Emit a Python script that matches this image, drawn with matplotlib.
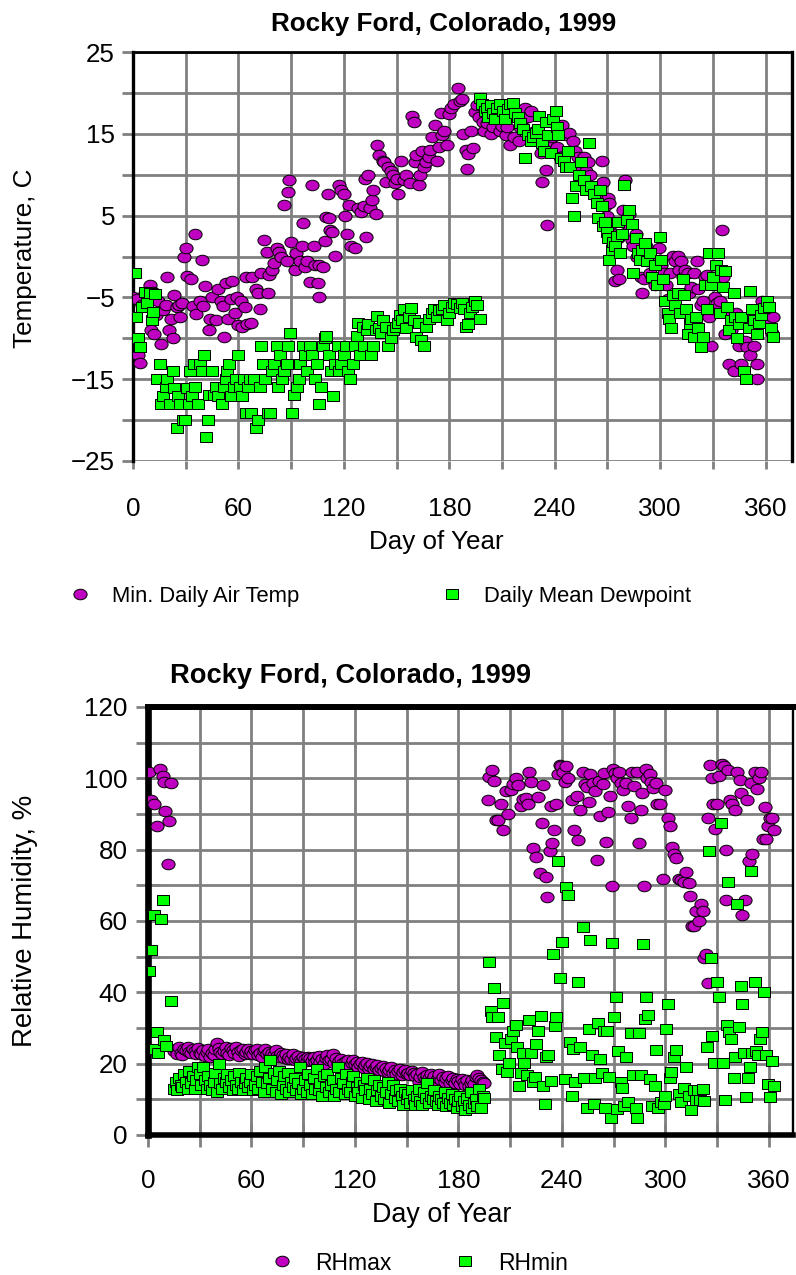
import matplotlib
matplotlib.use('Agg')
import matplotlib.pyplot as plt
from matplotlib.path import Path
from matplotlib.transforms import Affine2D
from matplotlib.ticker import FixedLocator
from matplotlib.lines import Line2D

plt.rcParams['font.family'] = ['Liberation Sans', 'DejaVu Sans']

# ---------------- data ----------------
title_text = "Rocky Ford, Colorado, 1999"

# Minimum daily air temperature (day, degC)
tmin_points = [
    (0,-4.9),(2,-5.2),(3,-12),(4,-13),(5,-5.9),(7,-4.5),(8,-5.4),(9.5,-3.5),(10,-9),(11.5,-4.3),
    (12,-9.5),(13,-7.1),(14,-5.4),(16,-10.7),(17,-6.6),(18.5,-5.9),(19.5,-2.5),(20.5,-9),(21.5,-7.6),
    (22.5,-10),(23.5,-4.7),(25,-6.2),(26,-5.9),(27,-7.4),(28,-5.7),(29,0),(30,1),(31,-2.4),(33,-2.8),
    (34,-6),(35.5,2.7),(36,-7),(38,-5.4),(39,-0.4),(40,-6),(41,-3.6),(43.5,-9),(44,-7.7),(45,-5),
    (47.5,-7.8),(48.5,-4),(50,-5.4),(51,-6),(52,-9.8),(53,-3.3),(54,-7.6),(55.5,-5.2),(56.5,-3),
    (58,-6.9),(59,-4.9),(60,-8.4),(61.5,-5.4),(62,-8.6),(64,-6.2),(64.5,-2.5),(65,-8.3),(67,-8.1),
    (68,-2.5),(70,-4),(71,-4.5),(72,-6.4),(73,-2),(74.5,2),(76,0.6),(77,-4.5),(77.5,-2.3),(79,-1.6),
    (80,-0.8),(82,1),(83,0.5),(84.5,-0.1),(86,6.3),(87.5,-0.5),(88,7.9),(89,9.3),(90,1.8),(92,-1.6),
    (93,0.4),(95,-0.6),(96,1.3),(97,4.1),(97.6,-1.3),(99,-0.6),(100.5,-3.1),(102,8.8),(103,1.3),
    (103.5,-1),(105,-3.3),(105.7,-1.1),(106,-4.9),(108,-1.3),(109,1.9),(110,4.8),(110.7,7.6),
    (111.5,4.7),(112,3.3),(113.5,3),(115,0.1),(117,8.7),(118.5,8.1),(120,7.6),(120.8,5),(121.6,2.8),
    (123,6.3),(124,1.3),(126.5,1.1),(128,5.9),(130,5.4),(131.7,6.2),(132,9.5),(132.5,2.4),(133.8,10),
    (135,5.9),(136,6.9),(136.6,8.1),(138,5.2),(138.7,13.6),(140,12.4),(142,11.7),(143,11.5),(144,9.1),
    (145,11),(146.8,10.5),(148,10),(149,9),(150,9.5),(151,7.7),(152.5,11.7),(154,9.3),(155.4,10),
    (157.7,9),(159,17.2),(160,16.5),(160.6,11.5),(161,12.4),(162.6,8.8),(163.5,10),(164.7,12.9),
    (165.5,11),(167,11.5),(168.4,12.2),(169,13),(170,14.6),(171.6,16.1),(172.8,11.7),(174,13.4),
    (175,17.5),(176,14.9),(177,15.3),(178.5,13.6),(179.7,17.4),(180.8,18.1),(182.9,18.7),(185,20.6),
    (186,19),(187,19.2),(187.8,15),(189.5,13),(190,10.7),(190.7,12.5),(192.4,15.3),(193.5,13.3),
    (194.4,17.7),(196,18.5),
    (197,17),(199,16.5),(200,15.3),(201.6,16.3),(203,17.3),(204,15),(205,15.8),(207,18),(208,16.8),
    (209,15.3),(210,15.9),(212,14.9),(212.6,17),(213,15.8),(214.6,13.6),(215.5,18.2),(216.7,14.6),
    (218.4,17.3),(219.6,14.1),(220.4,15.8),(221.9,16.8),(223.3,18.2),(224.8,17),(226.2,17.8),(227,15),
    (229,15.3),(230.5,14.6),(232,12.7),(232.8,9.1),(234.9,10.6),(235.7,3.8),(237,14.1),(238.6,14.6),
    (239.8,16.3),(241.5,13.4),(242.7,12.2),(244.4,16.1),(246.4,14.9),(247.9,15.1),(250.2,14.1),
    (251.3,12.9),(253,12.2),(254.2,11),(255.4,11.7),(256.5,12.2),(258,10.4),(258.9,11.5),(260,10),
    (260.9,8.6),(262.3,8.1),(263.8,7.1),(265.2,7.6),(266.6,11.7),(267.5,9.1),(268.7,6.2),(269.5,5),
    (270.4,7.1),(271,6.6),(271.8,4),(272.4,2.8),(273.3,0.4),(274.5,-3),(275.3,-1.6),(276.2,2.3),
    (276.8,-2.8),(278.2,4.2),(279,5.7),(280.2,9.3),(281.1,4),(282.5,5.2),(284,2),(284.8,1.3),(286,2.8),
    (286.9,-0.1),(287.7,0.4),(288.9,-2.5),(289.8,-4.5),(290.6,-2.8),(291.8,1.3),(292.7,-0.6),(294.1,-2),
    (295.5,-2.5),(297,-3.5),(298.4,-0.6),(299.3,1.1),(300.5,-1.1),(302.2,-2),(303.3,-3.5),(304.5,-5.2),
    (305.7,-2),(307,0.1),(308.5,-0.6),(310,0.1),(310.9,-1.6),(312,-0.6),(313.2,-2.5),(314.3,-1.6),
    (315.8,-2),(316.6,-4.5),(317.8,-3.7),(319.5,-2),(320.7,-0.6),(321.5,-4),(323,-5.9),(324.4,-5.4),
    (325.3,-2.5),(326.5,-2.3),(327.6,-7.4),(328.8,-11),(329.6,-6.4),(331,-5),(332.2,-5.7),(334,-5.4),
    (335,3.3),(336,-2.5),(336.8,-9.5),(338,-6.9),(338.9,-13.1),(340.3,-9),(341.8,-14),(343.2,-6.9),
    (344.7,-11),(346.1,-13.1),(347,-7.8),(348.4,-10.3),(349.6,-11.1),(351.3,-12),(353.3,-11),
    (354.8,-15),(355.3,-13.1),(357.1,-6.4),(358.2,-5.4),(359.1,-7.4),(360.5,-6.4),(362,-8.3),
    (363.4,-9.3),(364,-7.4),
]

# Daily mean dewpoint (day, degC)
dew_points = [
    (0.9,-2),(1.7,-7.4),(3,-10),(4,-11.1),(5,-6.2),(6.6,-4.4),(8,-5.7),(9.5,-4.5),(11,-7.8),(11.5,-6.8),
    (12.7,-4.6),(13.9,-15),(15.3,-13.1),(16.2,-18),(17.3,-17),(18.5,-16),(19.6,-15),(21,-18),(22.5,-14),
    (23.1,-16.1),(24.8,-21),(25.4,-17),(26.9,-18),(28.3,-20),(29.8,-20),(30.6,-16.1),(31.8,-18),
    (32.6,-14),(33.5,-17),(34.7,-13.1),(35.5,-16),(37,-18),(38.4,-13.1),(39.3,-14),(40.4,-12.1),
    (41.3,-22.1),(42.8,-20),(43.3,-16.9),(45,-14),(46.2,-16.9),(47.1,-16),(48.5,-17),(50.8,-18),
    (52,-16),(53.2,-15),(53.7,-14),(54.9,-13.1),(55.8,-17),(57.2,-16),(58.6,-15),(59.5,-12.1),
    (60.7,-16),(61.8,-17),(63,-15),(64.1,-19.1),(65.3,-16),(66.4,-15),(67.3,-19.1),(68.8,-15),
    (70.2,-21),(71.1,-20),(72.2,-16),(73.1,-11),(74,-13.1),(75.1,-15),(76.8,-19.1),(78,-19.1),
    (79.2,-14),(80.3,-13.1),(81.8,-11),(82.6,-16),(83.8,-12.1),(84.9,-15),(86.1,-14),(87.5,-13.1),
    (88.4,-11),(89.6,-9.3),(90.7,-19.1),(91.9,-16.9),(93.3,-16),(94.2,-15),(95.3,-13.1),(96.5,-11),
    (97.6,-12.1),(99.1,-14),(100.5,-11),(102,-12.1),(103.4,-15),(104.6,-13.1),(105.7,-18),(106.9,-16),
    (108,-11),(109.2,-10),(110,-9.7),(111.5,-12.1),(112.7,-14),(113.8,-17),(115,-13.1),(116.4,-11),
    (117.3,-14),(118.4,-13.1),(120.2,-12.1),(121.3,-11),(122.5,-14),(123.6,-15),(125.1,-13.1),
    (126.5,-11),(127.4,-9.7),(128.3,-8.1),(129.4,-12.1),(130.9,-8.6),(131.7,-11),(132.9,-9),(134,-8.3),
    (135.2,-12.1),(136.6,-11),(138,-9),(138.7,-7.3),(139.8,-8.8),(141,-9.3),(142.4,-7.8),(143.9,-8.6),
    (145.3,-11),(146.8,-10),(148.2,-9),(149.6,-8.6),(150.8,-8.1),(152,-7.1),(153.1,-7.8),(154.3,-6.4),
    (155.4,-8.8),(156.9,-7.4),(158.3,-6.3),(159.8,-7.8),(161.2,-9.8),(162.7,-8.1),(164.1,-10.2),
    (165.5,-11),(167,-8.6),(168.4,-7.6),(170,-6.9),(171.3,-6.4),(172.8,-7.4),(174.2,-6.6),(175.7,-6.4),
    (177.1,-5.9),(178.5,-7.8),(180,-6.9),(181.4,-6.2),(182.9,-5.7),(184.3,-5.8),(185.8,-6.3),
    (187.2,-5.7),(188.6,-6.4),(189.5,-8.6),(190.7,-8.3),(191.8,-6.9),(193,-6.2),(194.4,-5.4),
    (195.9,-5.9),(197.3,-7.6),
    (197.3,19.4),(198.8,18.7),(200.2,17.8),(201.6,18.2),(202.2,17),(204,18.5),(205,17.5),(206,16.8),
    (207.4,18.2),(208.9,18.7),(210.3,17.8),(211.8,16.8),(213.2,18),(214.6,18.6),(216,18.8),(217.5,17.5),
    (219,17),(220.4,16.3),(221.9,15.6),(223.3,12),(224.8,14.9),(226.2,14.1),(227.7,14.6),(229.1,15.1),
    (230.5,15.6),(231.1,17.2),(233,13.9),(234,12.9),(234.9,16.5),(236.3,14.9),(237.8,12.7),(239.2,16.8),
    (240.6,17.8),(241.5,15.8),(242,14.9),(243.5,12),(245,11.7),(246.4,11),(247.3,12.9),(248.5,11),
    (249.6,7.1),(250.8,5),(252.2,8.6),(253.7,10),(255.1,11.5),(256.5,9.3),(258,8.1),(259.4,13.9),
    (260.9,8.6),(262.3,7.6),(263.8,6.6),(264.6,4.7),(265.8,8.1),(266.7,6.2),(267.5,3.7),(268.7,4.2),
    (269.5,3),(270.4,2.3),(271,-0.4),(272.4,0.8),(273.3,1.8),(274.5,1.3),(275.3,2.5),(276.2,4.2),
    (277.3,0.4),(278.2,2.8),(279.6,8.7),(281.1,4.5),(282.5,5.7),(283.7,4),(284.8,-2),(286,2.3),
    (287.2,0.4),(288.3,-0.4),(289.8,0.8),(291.2,1.6),(292.7,-0.6),(294.1,0.4),(295.5,-2.5),(297,-1.1),
    (298.4,-3.5),(299.9,2.4),(300.7,-0.4),(301.6,-2.8),(302.8,-5.4),(304.2,-6.9),(305.1,-7.6),
    (306.3,-8.7),(307.1,-4.7),(308.5,-5.9),(310,-4.5),(311.4,-6.9),(312.9,-2.8),(313.7,-4.7),
    (314.9,-6.4),(315.8,-9.5),(317.2,-8.3),(317.8,-7.6),(319.2,-9.8),(320.1,-7.4),(321.5,-8.8),
    (323,-11.1),(324.1,-9.8),(325.3,-3.5),(326.5,-6.4),(327.6,0.4),(328.8,-3.5),(330.2,-2.5),
    (331.6,-1.1),(332.8,0.4),(334,-6.9),(334.5,-1.6),(336,-3.7),(336.8,-1.8),(338,-6.2),(339.2,-9),
    (340.3,-7.8),(341.8,-4.5),(342.6,-7.4),(343.8,-10),(344.9,-8.3),(346.1,-7.4),(347.5,-14),(349,-15),
    (350.4,-8.8),(351.3,-4.2),(352.5,-6.4),(353.6,-7.8),(354.8,-9.5),(356.2,-8.1),(357.6,-7.1),
    (359.1,-6.3),(360.5,-5.4),(362,-6.2),(362.9,-8.8),(364,-9.8),
]

# Relative humidity, early January (day, %)
rhmax_jan = [(0.6,101.8),(1.8,93.9),(3.5,92.7),(5,86.7),(7,102.6),(8.5,100.7),(9.1,99),(10,90.8),
             (11.4,75.9),(12.3,88),(13.5,98.8)]
rhmin_jan = [(0.3,45.9),(1.8,51.9),(3.5,61.7),(4.1,24.1),(5.3,28.8),(5.6,22.9),(7.3,60.6),(8.5,65.8),
             (9.1,26.6),(10.3,25),(13.2,37.7)]

# Days 15..195: the low, narrow band
band_start_day = 15
rhmax_band = [
    23.5,24.0,22.8,24.6,23.0,22.5,24.2,23.8,24.8,23.2,22.9,24.0,23.5,22.6,24.3,23.1,
    22.8,23.9,22.2,23.4,24.1,21.8,23.0,22.5,24.0,25.8,24.5,23.2,22.7,23.6,24.8,
    23.1,22.4,24.3,23.7,22.9,24.6,23.4,22.2,23.8,24.0,22.6,23.3,24.2,22.8,23.5,
    22.7,23.9,24.0,22.4,23.1,22.0,23.6,24.1,22.8,23.3,21.9,23.0,22.5,23.7,22.2,
    21.8,22.9,22.3,21.5,22.6,21.2,22.0,21.4,22.7,20.9,21.6,22.1,21.0,20.5,21.8,
    21.3,20.7,22.0,21.5,20.8,21.9,20.4,21.1,22.2,20.6,21.4,19.8,21.7,22.5,20.9,
    21.2,22.8,20.3,21.5,19.9,20.8,21.3,20.1,19.6,20.7,21.0,19.4,20.2,20.9,19.8,
    20.4,19.2,19.9,20.6,18.8,19.5,20.1,18.6,19.3,19.9,18.4,19.0,19.7,18.2,18.9,
    19.4,18.0,18.7,17.6,18.3,19.0,17.4,18.1,17.2,17.9,18.5,16.9,17.6,18.2,17.0,
    17.5,16.8,17.9,17.3,16.6,17.1,14.8,16.4,17.8,16.2,15.6,16.9,16.0,17.2,15.8,
    16.5,15.2,16.1,17.0,15.5,16.3,15.0,15.9,16.6,14.7,15.4,16.0,14.5,15.7,15.1,
    14.2,15.8,14.9,14.0,15.3,13.8,14.6,15.5,14.3,16.2,16.9,16.0,15.4,14.8,14.6,
]
rhmin_band = [
    13,15,12.5,16,14,13.5,17,15,12.8,18,14.5,16.5,13,15.5,19,17,
    14,19,15.5,13,16.5,14,12.5,15,17.5,12,20,14.5,13,16,15,
    17,13.5,15.5,12.5,16.5,14,13,17.5,15,12.5,14.5,16,13.5,15,17,
    12.5,14,16.5,13,18,15,12,19,14.5,16,21,13,17.5,12,15.5,
    18,11.5,14,16.5,13,17.5,12,15,13.5,16,12.5,14.5,19,11.5,13,
    15.5,12,17,14,11.5,16,13,18.5,12.5,14.5,11,16.5,13.5,17,12,
    14,15.5,11,13,19,12,16,14.5,11.5,17,13,12,15,16.5,11,
    13.5,12,15,10.5,14,12.5,16,10,13,11.5,15.5,9.5,12.5,14,11,
    13.5,10,12,15,9,11.5,14,10.5,12.5,9.5,13,11,8.5,12,10,
    11.5,9,12.5,10,8.5,11,13,9.5,8.5,12,10.5,14.5,9,11,10,
    12.5,9.5,8.5,11,10,9,12,8,10.5,9,11.5,8.5,10,7.5,9.5,
    11,8,9.5,7,10.5,8.5,12,7.5,9,10,8,13,7.5,11,10.5,
]

# Second half of the year (day, %)
rhmax_late = [
    (196.9,93.9),(198,100.3),(199.2,102.2),(200.7,99.2),(201.6,88.2),(202.7,88.2),(204.5,92.7),
    (206,85.4),(207.4,96.5),(208.9,89.9),(210.4,96.7),(211.5,98.4),(213.3,100.1),(214.5,98.1),
    (216.2,92.2),(217.4,94.2),(219.2,94.4),(220.3,92.7),(221.2,101.8),(222.1,99),(223.3,80.5),(225,78),
    (226.2,94.7),(227.1,73.4),(228.6,87.6),(229.1,98.1),(230.9,72.3),(231.5,66.6),(233,79.7),
    (233.8,92.2),(234.4,82),(235.3,85.4),(236.5,92.7),(237.9,101.2),(238.8,103.7),(239.7,103.5),
    (240.9,101.8),(241.8,99),(242.6,103.5),(243.8,100.1),(245.6,93.9),(246.8,85.6),(248.5,95),
    (249.1,82.7),(250.6,91),(252,101.8),(253.5,98.4),(254.4,97.6),(255.6,93.3),(256.5,101.2),
    (257.9,98.8),(259.4,96.5),(260.2,77.2),(261.4,99.2),(262.3,89.3),(263.8,98.4),(264.6,101.5),
    (265.8,82.2),(266.7,90.5),(267.9,95),(268.8,69.7),(269.6,102.6),(270.8,101.5),(272,100.1),
    (273.2,101.8),(274.3,98.8),(275.5,96.7),(277,98.8),(278.4,92.2),(279.9,88.8),(280.8,101.8),
    (281.9,97.8),(283.7,101.8),(284.8,82),(285.8,91),(286.7,95.8),(287.8,69.7),(288.7,102.6),
    (289.6,100.1),(290.8,101.2),(291.6,99),(293.1,97.3),(294.3,98.8),(295.4,92.7),(296.6,92.7),
    (298.4,71.7),(299.6,96.7),(301.3,88.8),(302.5,86.7),(303.7,80.8),(304.8,78.8),(306.3,77.6),
    (307.8,71.7),(309.3,71.5),(310.7,70.8),(312.2,73.8),(313.7,70.6),(314.5,67),(315.4,58.7),
    (316.6,58.7),(318,62.9),(319.5,60),(320.7,64.7),(321.9,62.9),(322.5,49.6),(323.6,50.7),
    (324.8,42.5),(324.8,88.8),(326,103.7),(326.9,100.1),(327.7,92.7),(328.9,85.7),(329.8,92.7),
    (331.3,100.7),(332.7,104.1),(334.2,103.5),(335.1,79.9),(335.1,65.8),(336.5,102.4),(337.7,93.9),
    (338.6,92.7),(340.1,91),(341.5,101.8),(343,99.5),(343.9,95.8),(344.7,61.7),(345.9,65.8),
    (347.1,93.9),(348.3,76.8),(349.4,98.8),(350.3,78.8),(351.8,101.8),(352.9,96.9),(354.1,100.1),
    (355.3,101.8),(356.5,82.9),(357.7,91.9),(358.5,82.9),(359.7,86.7),(360.6,88.8),(362.1,89),
    (363,85.6),
]
rhmin_late = [
    (197.8,48.5),(198.6,34.8),(199.2,33.1),(200.7,41.1),(201.6,27.5),(202.7,33.1),(203.6,22.4),
    (205.1,18.4),(206,37.1),(207.1,25.8),(208,17.8),(209.5,20.1),(210.4,26.9),(211.5,29.2),
    (213.3,30.9),(213.9,24.6),(215.4,13.8),(216.2,17.3),(217.4,22.9),(218.3,20.1),(219.7,16.7),
    (221.2,32.2),(222.1,22.9),(223.3,15),(224.2,16.3),(225,25.4),(226.2,29.2),(228,33.4),(229.1,13.8),
    (230,8.7),(230.9,21.8),(232.1,22.4),(233.8,15.2),(235,50.7),(235.9,30.6),(236.8,33.1),(237.9,76.8),
    (239.1,43.9),(240.3,54.1),(241.8,15.6),(242.6,69.5),(243.8,67.2),(244.7,26.1),(245.6,11),
    (246.2,24.1),(247.6,15),(249.1,42.8),(250.6,24.6),(252,58.3),(252.9,16.1),(254.4,7.6),(255.6,29.7),
    (256.5,54.7),(257.3,22.4),(258.5,8.7),(259.4,16.1),(260.8,31.4),(262,21.2),(263.2,17.3),
    (264.4,29.2),(265.2,7.6),(266.1,29.2),(267.3,16.3),(268.2,4.8),(269,53.8),(270.2,33.1),(271.1,38.8),
    (272,7.3),(272.6,23.5),(274,15),(274.9,13.3),(276.1,8.2),(277.3,21.8),(278.4,9.3),(279.9,28.6),
    (281.4,16.7),(282.8,7.6),(283.7,4.8),(284.9,28.6),(285.8,16.7),(287.2,53.6),(288.1,32.6),(289,38.8),
    (290.2,33.7),(291.3,15.6),(292.5,8.2),(293.7,13.8),(294.6,23.8),(296,7.6),(297.5,9.3),(299,8.7),
    (299.6,11),(300.4,29.7),(301.3,36.8),(302.5,16.1),(303.4,17.8),(304.8,21.8),(306.3,23.8),
    (307.8,11.6),(309.3,9.3),(310.7,13.3),(312.2,19),(313.7,11),(315.1,7),(316.6,12.7),(318,9.9),
    (318.9,12.7),(320.1,9.9),(321.9,12.9),(322.5,9.5),(323.9,24.6),(325.4,79.7),(326.3,49.6),
    (327.1,27.7),(328.3,20.1),(330.1,42.8),(331.2,38.8),(332.1,87.6),(333.6,20.1),(334.8,9.9),
    (335.7,30.9),(336.5,70.8),(337.1,28.8),(338.3,26.9),(339.5,15.9),(340.6,21.8),(341.5,64.9),
    (342.4,30.3),(343.6,41.7),(344.5,36.8),(345.3,22.9),(346.5,10.7),(347.7,15.9),(348.9,19),
    (349.4,74),(350.3,22.9),(351.8,42.8),(352.7,23.5),(353.8,22.4),(354.7,26.9),(355.9,28.8),
    (357.1,40),(358.2,22.4),(359.4,14.4),(360.6,10.7),(361.8,20.7),(363,13.8),
]

top_yticks = [-25, -15, -5, 5, 15, 25]
top_yminor = [-20, -10, 0, 10, 20]
bot_yticks = [0, 20, 40, 60, 80, 100, 120]
bot_yminor = [10, 30, 50, 70, 90, 110]
xticks = [0, 60, 120, 180, 240, 300, 360]
xminor = [30, 90, 150, 210, 270, 330]

# ---------------- styling ----------------
W, H = 796, 1275
fig = plt.figure(figsize=(W / 100, H / 100), dpi=100)


def fx(px):
    return px / W


def fy(py):
    return 1 - py / H


MAGENTA = '#C000C0'
GREEN = '#00FF00'
GRID = '#808080'
ell = Path.unit_circle().transformed(Affine2D().scale(1.0, 0.8))
rect = Path.unit_rectangle().transformed(Affine2D().translate(-0.5, -0.5).scale(1.0, 0.8))
MS = 9.5


def split(points):
    return [p[0] for p in points], [p[1] for p in points]


def style_axes(ax, yt, ym):
    ax.set_xticks(xticks)
    ax.xaxis.set_minor_locator(FixedLocator(xminor))
    ax.set_yticks(yt)
    ax.yaxis.set_minor_locator(FixedLocator(ym))
    ax.grid(True, which='both', color=GRID, lw=2.0)
    ax.set_axisbelow(True)


# ===== Top chart =====
ax1 = fig.add_axes([fx(133), fy(461), (792 - 133) / W, (461 - 52) / H])
ax1.set_xlim(0, 375)
ax1.set_ylim(-25, 25)
style_axes(ax1, top_yticks, top_yminor)
d, v = split(tmin_points)
ax1.plot(d, v, ls='none', marker=ell, ms=MS, mfc=MAGENTA, mec='black', mew=0.7, zorder=3)
d, v = split(dew_points)
ax1.plot(d, v, ls='none', marker=rect, ms=MS * 0.95, mfc=GREEN, mec='black', mew=0.7, zorder=4)
for s in ['left', 'right']:
    ax1.spines[s].set_linewidth(2.4)
ax1.spines['top'].set_linewidth(2.0)
ax1.spines['bottom'].set_visible(False)
ax1.tick_params(axis='y', which='both', direction='out', length=8, width=2, color=GRID,
                labelsize=18.7, pad=5)
ax1.tick_params(axis='x', which='both', direction='out', length=6, width=2, color=GRID,
                labelsize=18.7, pad=20)

fig.text(fx(444), fy(24), title_text, ha='center', va='center', fontsize=18.8, fontweight='bold')
fig.text(fx(436), fy(542), 'Day of Year', ha='center', va='center', fontsize=18.7)
fig.text(fx(25), fy(258), 'Temperature, C', ha='center', va='center', rotation=90, fontsize=18.7)

# ===== Bottom chart =====
ax2 = fig.add_axes([fx(148), fy(1135), (793 - 148) / W, (1135 - 707) / H])
ax2.set_xlim(0, 374)
ax2.set_ylim(0, 120)
style_axes(ax2, bot_yticks, bot_yminor)
band_days = list(range(band_start_day, band_start_day + len(rhmax_band)))
d1, v1 = split(rhmax_jan)
d2, v2 = split(rhmax_late)
ax2.plot(d1 + band_days + d2, v1 + rhmax_band + v2, ls='none', marker=ell, ms=MS, mfc=MAGENTA,
         mec='black', mew=0.7, zorder=3)
band_days2 = list(range(band_start_day, band_start_day + len(rhmin_band)))
d1, v1 = split(rhmin_jan)
d2, v2 = split(rhmin_late)
ax2.plot(d1 + band_days2 + d2, v1 + rhmin_band + v2, ls='none', marker=rect, ms=MS * 0.95, mfc=GREEN,
         mec='black', mew=0.7, zorder=4)
ax2.spines['left'].set_linewidth(4.8)
ax2.spines['top'].set_linewidth(4.3)
ax2.spines['bottom'].set_linewidth(4.0)
ax2.spines['right'].set_linewidth(1.7)
ax2.tick_params(axis='both', which='both', direction='inout', length=17, width=2, color=GRID,
                labelsize=18.7)
ax2.tick_params(axis='y', pad=6)
ax2.tick_params(axis='x', pad=16)

fig.text(fx(350), fy(676), title_text, ha='center', va='center', fontsize=19.6, fontweight='bold')
fig.text(fx(442), fy(1215), 'Day of Year', ha='center', va='center', fontsize=19.4)
fig.text(fx(25), fy(921), 'Relative Humidity, %', ha='center', va='center', rotation=90, fontsize=19.9)


# ===== Legends =====
def legend_entry(handle, label, x_marker, x_text, y, fs):
    em = fs * 100 / 72
    hl = 1.0
    x0 = x_marker - hl * em / 2
    pad = (x_text - (x0 + hl * em)) / em
    fig.legend(handles=[handle], labels=[label], loc='center left',
               bbox_to_anchor=(fx(x0), fy(y)), frameon=False, borderpad=0,
               borderaxespad=0, handlelength=hl, handletextpad=pad, fontsize=fs)


h_circ = Line2D([], [], ls='none', marker=ell, ms=MS, mfc=MAGENTA, mec='black', mew=0.7)
h_sq = Line2D([], [], ls='none', marker=rect, ms=MS * 0.95, mfc=GREEN, mec='black', mew=0.7)
legend_entry(h_circ, 'Min. Daily Air Temp', 80, 112, 596, 15.8)
legend_entry(h_sq, 'Daily Mean Dewpoint', 452, 484, 596, 15.8)
legend_entry(h_circ, 'RHmax', 282, 315, 1263, 16.5)
legend_entry(h_sq, 'RHmin', 465, 498, 1263, 16.5)

fig.savefig('out.png', dpi=100)
